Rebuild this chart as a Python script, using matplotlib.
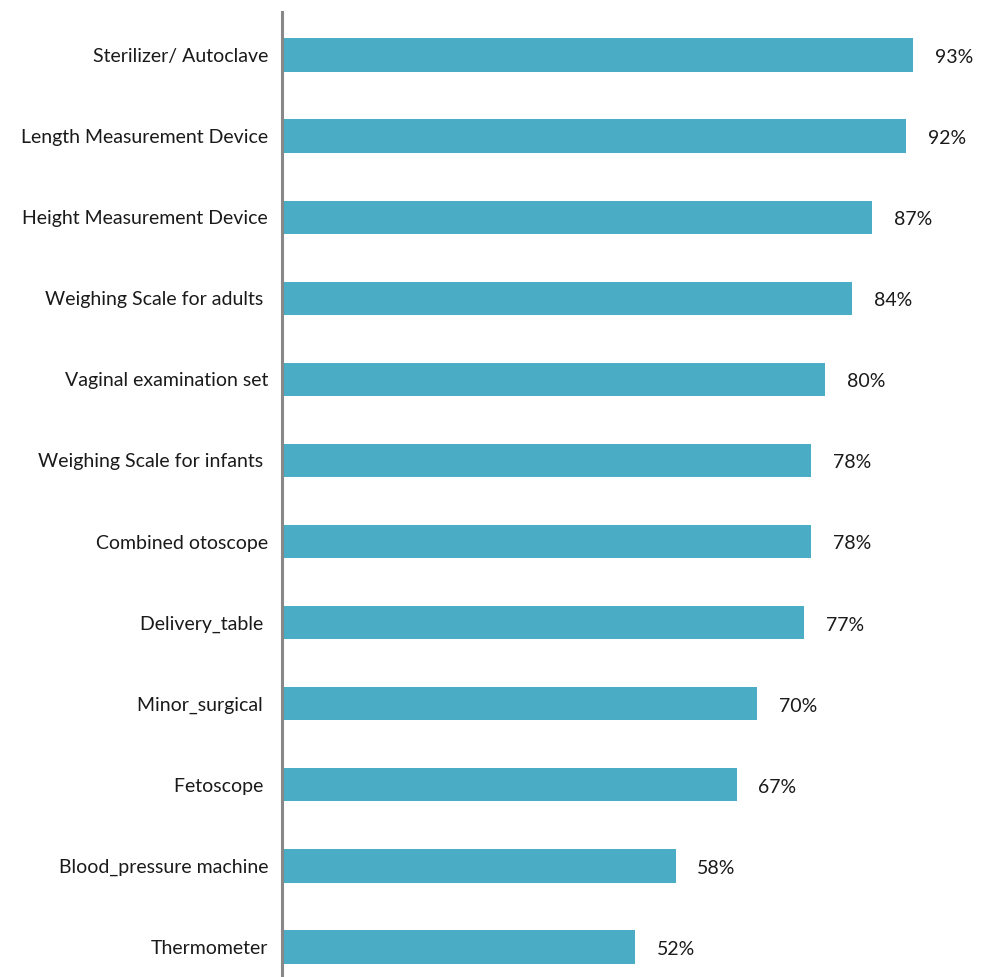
import matplotlib
matplotlib.use("Agg")
import matplotlib.pyplot as plt

categories = ["Sterilizer/ Autoclave", "Length Measurement Device", "Height Measurement Device",
              "Weighing Scale for adults ", "Vaginal examination set", "Weighing Scale for infants ",
              "Combined otoscope", "Delivery_table ", "Minor_surgical ", "Fetoscope ",
              "Blood_pressure machine", "Thermometer"]
values = [93, 92, 87, 84, 80, 78, 78, 77, 70, 67, 58, 52]

plt.rcParams['font.family'] = ['Lato', 'DejaVu Sans']

W, H = 992, 977
fig = plt.figure(figsize=(W/100, H/100), dpi=100)
ax = fig.add_axes([282/W, 0, 1 - 282/W, (977 - 12)/H])

ypos = list(range(len(categories)))
ax.barh(ypos, values, height=0.41, color="#4BACC6", left=0)
ax.set_xlim(0, (W - 282) / 6.785)
ax.set_ylim(11.37, -0.53)

for y, v in zip(ypos, values):
    ax.text(v + 3.2, y + 0.03, f"{v}%", va="center", ha="left", fontsize=14, color="#1a1a1a")

ax.set_yticks(ypos)
ax.set_yticklabels(categories, fontsize=14, color="#1a1a1a")
ax.tick_params(axis="y", length=0, pad=10)
ax.set_xticks([])
for s in ["top", "right", "bottom"]:
    ax.spines[s].set_visible(False)
ax.spines["left"].set_color("#888888")
ax.spines["left"].set_linewidth(2.2)

fig.savefig("out.png", dpi=100)
